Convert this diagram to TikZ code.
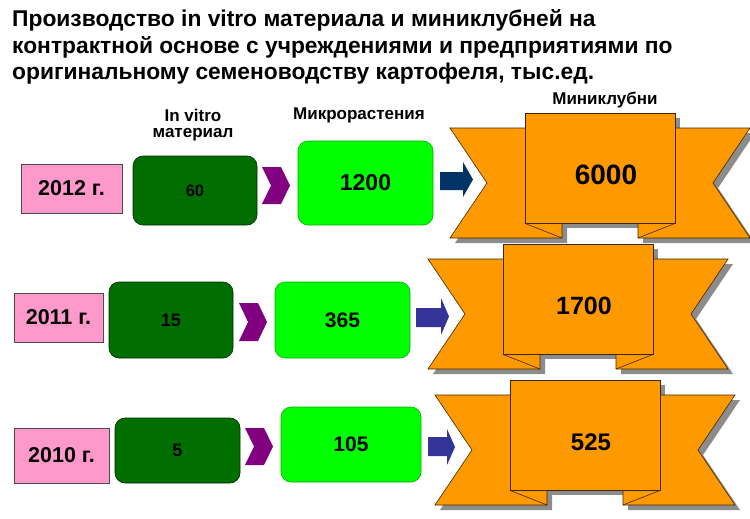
\documentclass[tikz,border=0pt]{standalone}
\usepackage{fontspec}
\setmainfont{Liberation Sans}
\definecolor{pinkc}{HTML}{FF99CC}
\definecolor{dkg}{HTML}{006E00}
\definecolor{ltg}{HTML}{00FF00}
\definecolor{purp}{HTML}{800080}
\definecolor{orng}{HTML}{FF9900}
\definecolor{navyc}{HTML}{003366}
\definecolor{bluc}{HTML}{333399}
\definecolor{shad}{HTML}{8C8C8C}
\newcommand{\fs}[1]{\bfseries\fontsize{#1}{#1}\selectfont}
\newcommand{\mychev}[4]{%
  \fill[purp] (#1,#2) -- ({#3-9},#2) -- (#3,{(#2+#4)/2}) -- ({#3-9},#4) -- (#1,#4) -- ({#1+9},{(#2+#4)/2}) -- cycle;}
\newcommand{\myarrow}[8]{%
  \fill[#1] (#2,#5) -- (#3,#5) -- (#3,#7) -- (#4,{(#7+#8)/2}) -- (#3,#8) -- (#3,#6) -- (#2,#6) -- cycle;}
\newcommand{\myribbon}[5]{%
  \begin{scope}[shift={(#1,#2)}]
    \begin{scope}[shift={(5,5)}]
      \fill[shad] (0,0) -- (112,0) -- (112,110) -- (0,110) -- (37,55) -- cycle;
      \fill[shad] (300,0) -- (188,0) -- (188,110) -- (300,110) -- (263,55) -- cycle;
      \fill[shad] (75,-15) rectangle (225,95);
    \end{scope}
    \filldraw[band] (0,0) -- (112,0) -- (112,110) -- (0,110) -- (37,55) -- cycle;
    \filldraw[band] (300,0) -- (188,0) -- (188,110) -- (300,110) -- (263,55) -- cycle;
    \node[panel] (#3) at (150,40) {};
    \draw[bandline] (#3.south west) -- (112,110);
    \draw[bandline] (#3.south east) -- (188,110);
    \node[font=\fs{#5}] (#3t) at (156,47) {#4};
  \end{scope}}
\tikzset{
  band/.style={fill=orng, draw=black!75!orng, line width=0.6pt, line join=miter},
  bandline/.style={draw=black!75!orng, line width=0.6pt},
  panel/.style={fill=orng, draw=black!75!orng, line width=0.6pt, minimum width=150pt, minimum height=110pt, inner sep=0pt},
  yearbox/.style={draw=black!70, fill=pinkc, line width=0.6pt, inner sep=0pt, font=\fs{21.5}},
  invitro/.style={draw=black!60!dkg, fill=dkg, rounded corners=10pt, line width=0.6pt, inner sep=0pt},
  micro/.style={draw=black!30!ltg, fill=ltg, rounded corners=10pt, line width=0.6pt, inner sep=0pt},
  hdr/.style={font=\fs{17}, inner sep=0pt},
  ttl/.style={font=\fs{22.8}, anchor=base west, inner sep=0pt}
}
\begin{document}
\begin{tikzpicture}[x=1pt,y=-1pt]
\useasboundingbox[fill=white] (0,0) rectangle (750,519);
% title
\node[ttl] (t1) at (12,27) {Производство in vitro материала и миниклубней на};
\node[ttl] (t2) at (12,53.5) {контрактной основе с учреждениями и предприятиями по};
\node[ttl] (t3) at (12,80) {оригинальному семеноводству картофеля, тыс.ед.};
% headers
\node[hdr] (h1) at (193,115) {In vitro};
\node[hdr] (h2) at (193,135) {материал};
\node[hdr] (h3) at (359,115) {Микрорастения};
\node[hdr] (h4) at (605,100) {Миниклубни};
% ribbons
\myribbon{450}{128}{r12}{6000}{28}
\myribbon{428}{259}{r11}{1700}{25}
\myribbon{435}{395}{r10}{525}{24}
% 2012
\node[yearbox, minimum width=101pt, minimum height=49pt] (y12) at (71.5,188.5) {2012 г.};
\node[invitro, minimum width=124pt, minimum height=69pt, font=\fs{16.5}] (a12) at (195,190.5) {60};
\mychev{262}{167}{290}{204}
\node[micro, minimum width=135pt, minimum height=84pt, font=\fs{23}] (b12) at (365.5,183) {1200};
\myarrow{navyc}{440}{463}{473}{172}{190}{162}{197}
% 2011
\node[yearbox, minimum width=89pt, minimum height=49pt] (y11) at (58.5,317.5) {2011 г.};
\node[invitro, minimum width=124pt, minimum height=76pt, font=\fs{18}] (a11) at (171,320) {15};
\mychev{239}{303}{267}{341}
\node[micro, minimum width=135pt, minimum height=76pt, font=\fs{21}] (b11) at (342.5,320) {365};
\myarrow{bluc}{416}{441}{449}{308}{327}{298}{335}
% 2010
\node[yearbox, minimum width=95pt, minimum height=55pt] (y10) at (61.5,455.5) {2010 г.};
\node[invitro, minimum width=125pt, minimum height=65pt, font=\fs{18}] (a10) at (177.5,450.5) {5};
\mychev{245}{428}{273}{465}
\node[micro, minimum width=140pt, minimum height=75pt, font=\fs{21}] (b10) at (351,444.5) {105};
\myarrow{bluc}{428}{447}{455}{437}{456}{429}{465}
\end{tikzpicture}
\end{document}
